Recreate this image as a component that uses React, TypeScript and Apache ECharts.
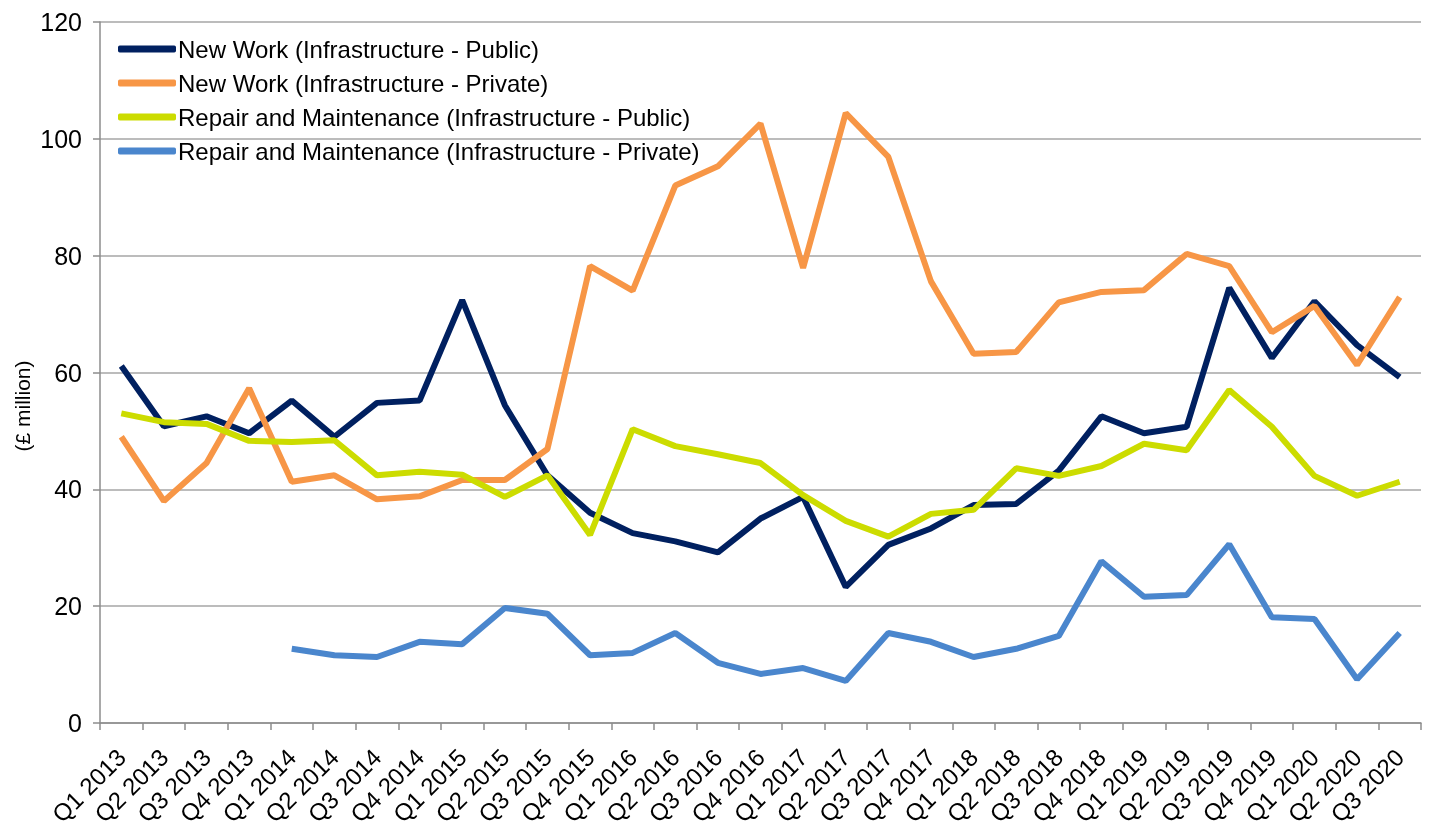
import React, { useEffect, useRef } from "react";
import * as echarts from "echarts";

const categories = [
  "Q1 2013", "Q2 2013", "Q3 2013", "Q4 2013",
  "Q1 2014", "Q2 2014", "Q3 2014", "Q4 2014",
  "Q1 2015", "Q2 2015", "Q3 2015", "Q4 2015",
  "Q1 2016", "Q2 2016", "Q3 2016", "Q4 2016",
  "Q1 2017", "Q2 2017", "Q3 2017", "Q4 2017",
  "Q1 2018", "Q2 2018", "Q3 2018", "Q4 2018",
  "Q1 2019", "Q2 2019", "Q3 2019", "Q4 2019",
  "Q1 2020", "Q2 2020", "Q3 2020",
];

const newWorkPublic = [
  61.1, 50.8, 52.5, 49.6, 55.2, 49.0, 54.8, 55.2, 72.4, 54.4, 42.4,
  36.0, 32.5, 31.1, 29.2, 35.0, 38.7, 23.3, 30.5, 33.3, 37.3, 37.5,
  43.2, 52.5, 49.6, 50.7, 74.5, 62.5, 72.2, 64.7, 59.2,
];

const newWorkPrivate = [
  49.0, 38.0, 44.5, 57.3, 41.3, 42.4, 38.3, 38.8, 41.6, 41.6, 46.9,
  78.2, 74.0, 92.0, 95.3, 102.6, 77.9, 104.4, 96.9, 75.6, 63.2, 63.5,
  72.0, 73.8, 74.1, 80.3, 78.2, 66.9, 71.4, 61.3, 72.9,
];

const rmPublic = [
  53.0, 51.5, 51.2, 48.3, 48.1, 48.4, 42.4, 43.0, 42.5, 38.7, 42.4,
  32.2, 50.3, 47.4, 46.0, 44.5, 39.0, 34.6, 31.9, 35.8, 36.5, 43.6,
  42.3, 44.0, 47.8, 46.7, 57.0, 50.7, 42.3, 38.9, 41.3,
];

const rmPrivate: (number | null)[] = [
  null, null, null, null, 12.7, 11.6, 11.3, 13.9, 13.5, 19.7, 18.7,
  11.6, 12.0, 15.4, 10.3, 8.4, 9.4, 7.2, 15.4, 13.9, 11.3, 12.7,
  14.9, 27.7, 21.6, 21.9, 30.6, 18.1, 17.8, 7.5, 15.4,
];

const seriesNames = [
  "New Work (Infrastructure - Public)",
  "New Work (Infrastructure - Private)",
  "Repair and Maintenance (Infrastructure - Public)",
  "Repair and Maintenance (Infrastructure - Private)",
];

const yAxisTitle = "(£ million)";

const colors = ["#002060", "#F79646", "#CCDC00", "#4A86CD"];

export default function App() {
  const ref = useRef<HTMLDivElement>(null);

  useEffect(() => {
    if (!ref.current) return;
    const chart = echarts.init(ref.current, undefined, { renderer: "svg" });
    const font = "Liberation Sans, Arial, sans-serif";
    const dataSets = [newWorkPublic, newWorkPrivate, rmPublic, rmPrivate];
    chart.setOption({
      animation: false,
      color: colors,
      textStyle: { fontFamily: font },
      grid: { left: 100, top: 22, right: 11, bottom: 106, containLabel: false },
      legend: {
        orient: "vertical",
        left: 113,
        top: 32,
        itemWidth: 58,
        itemHeight: 7,
        itemGap: 10,
        icon: "roundRect",
        textStyle: { fontSize: 24, color: "#000", fontFamily: font, padding: [0, 0, 0, -3] },
        data: seriesNames,
      },
      graphic: [
        {
          type: "text",
          x: 22,
          y: 406,
          rotation: Math.PI / 2,
          style: {
            text: yAxisTitle,
            fontSize: 21,
            fontFamily: font,
            fill: "#000",
            align: "center",
            verticalAlign: "middle",
          },
        },
      ],
      xAxis: {
        type: "category",
        data: categories,
        boundaryGap: true,
        axisLine: { lineStyle: { color: "#8C8C8C", width: 1.5 } },
        axisTick: { show: true, length: 7, lineStyle: { color: "#8C8C8C", width: 1.5 } },
        axisLabel: {
          interval: 0,
          rotate: 45,
          fontSize: 24,
          color: "#000",
          fontFamily: font,
          margin: 30,
        },
      },
      yAxis: {
        type: "value",
        min: 0,
        max: 120,
        interval: 20,
        axisLine: { show: true, lineStyle: { color: "#8C8C8C", width: 1.5 } },
        axisTick: { show: true, length: 7, lineStyle: { color: "#8C8C8C", width: 1.5 } },
        axisLabel: { fontSize: 25, color: "#000", fontFamily: font, margin: 18 },
        splitLine: { lineStyle: { color: "#A6A6A6", width: 1.5 } },
      },
      series: seriesNames.map((name, i) => ({
        name,
        type: "line",
        data: dataSets[i],
        showSymbol: false,
        symbol: "none",
        connectNulls: false,
        lineStyle: { width: 6, color: colors[i] },
        itemStyle: { color: colors[i] },
      })),
    });
    return () => chart.dispose();
  }, []);

  return (
    <div
      ref={ref}
      style={{ position: "fixed", left: 0, top: 0, width: 1432, height: 829 }}
    />
  );
}
